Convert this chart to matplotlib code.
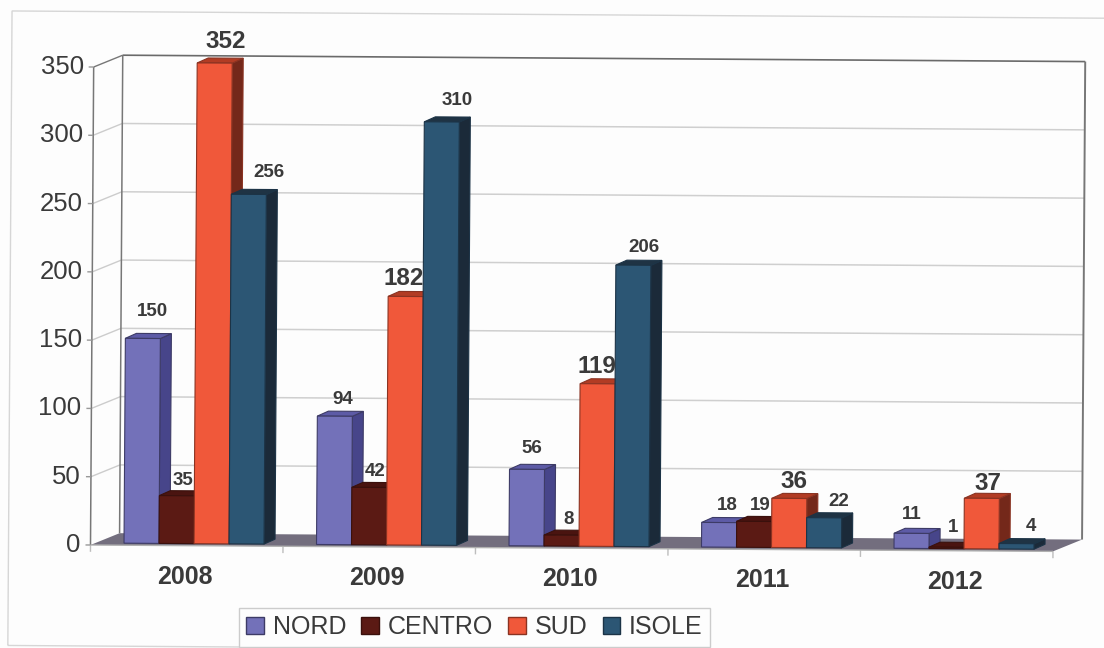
import matplotlib
matplotlib.use('Agg')
import matplotlib.pyplot as plt
from matplotlib.patches import Polygon, Rectangle, Patch
from matplotlib.transforms import Affine2D

plt.rcParams['font.family'] = ['Liberation Sans', 'DejaVu Sans']

# === DATI ===
anni = ['2008', '2009', '2010', '2011', '2012']
nord = [150, 94, 56, 18, 11]
centro = [35, 42, 8, 19, 1]
sud = [352, 182, 119, 36, 37]
isole = [256, 310, 206, 22, 4]
tick_y = [0, 50, 100, 150, 200, 250, 300, 350]
nomi = ['NORD', 'CENTRO', 'SUD', 'ISOLE']

# === STILE ===
# (fronte, lato, sopra, bordo)
colori = [
    ('#7371b9', '#47458a', '#5d5ba6', '#3d3b66'),
    ('#5b1a14', '#3e100c', '#4a1410', '#3a100c'),
    ('#f0583a', '#74281a', '#b23c24', '#8a3322'),
    ('#2c5674', '#1b2a39', '#1f3344', '#1c3346'),
]
TESTO = '#3a3a3a'
PIX_X = 192.5          # pixel per categoria
PIX_Y = 478 / 350      # pixel per unita
PROF_X = 29 / PIX_X    # profondita del grafico
PROF_Y = 12 / PIX_Y
BAR_W = 35 / PIX_X
BAR_X0 = 33.5 / PIX_X
BAR_Y0 = 1.5
BAR_DX = 11 / PIX_X
BAR_DY = 5 / PIX_Y
INCLINA = -0.38        # la scansione e leggermente ruotata

# spostamento delle etichette in pixel rispetto alla cima della barra
off_etichette = [
    [(9.5, 27), (6, 15), (11, 22), (20, 22)],
    [(8, 17), (6, 16), (-1.5, 18), (15, 21)],
    [(5, 21), (7, 16), (-1, 17), (11, 18)],
    [(8, 17), (6, 16), (5, 17), (14.5, 16)],
    [(0, 19), (6.5, 20), (6, 15), (14, 17)],
]
grandi = {(0, 2), (1, 2), (2, 2), (3, 2), (4, 2)}

W, H = 1104, 648
fig = plt.figure(figsize=(W / 100, H / 100), dpi=100, facecolor='#fdfdfd')
ax = fig.add_axes([90.5 / W, 103 / H, 5 * PIX_X / W, 478 / H])
ax.set_xlim(0, 5)
ax.set_ylim(0, 350)
ax.axis('off')

rot = Affine2D().rotate_deg_around(91, 103, INCLINA)
tf = ax.transData + rot


def poligono(punti, fc, ec='none', lw=0.8, z=2):
    ax.add_patch(Polygon(punti, closed=True, facecolor=fc, edgecolor=ec, linewidth=lw,
                         transform=tf, clip_on=False, zorder=z))


def linea(xs, ys, col, lw=1.0, z=1):
    ax.plot(xs, ys, color=col, lw=lw, transform=tf, clip_on=False, zorder=z,
            solid_capstyle='butt')


def testo(x, y, s, dx=0, dy=0, **kw):
    t = tf + Affine2D().translate(dx, dy)
    ax.text(x, y, s, transform=t, clip_on=False, zorder=6, color=TESTO, **kw)


# cornice esterna
fig.add_artist(Rectangle((8.5, 2), 1250, 634.5, fill=False, edgecolor='#d6d6d6', linewidth=1.0,
                         transform=rot, zorder=-1))

# === PARETI ===
for v in tick_y[1:]:
    col = '#6a6a6a' if v == 350 else '#cfcfcf'
    linea([PROF_X, 5 + PROF_X], [v + PROF_Y, v + PROF_Y], col, 1.2 if v == 350 else 1.1)
    linea([0, PROF_X], [v, v + PROF_Y], '#777777' if v == 350 else '#cccccc', 1.0)
linea([0, 0], [0, 350], '#777777', 1.1)
linea([PROF_X, PROF_X], [PROF_Y, 350 + PROF_Y], '#777777', 1.1)
linea([5 + PROF_X, 5 + PROF_X], [PROF_Y, 350 + PROF_Y], '#777777', 1.4)

# pavimento
poligono([(0, 0), (5, 0), (5 + PROF_X, PROF_Y), (PROF_X, PROF_Y)], '#736e7e', z=1.5)
linea([0, 5], [0, 0], '#b0b0b0', 1.0, z=1.6)

# tacche
for i in range(6):
    linea([i, i], [0, -5], '#bdbdbd', 1.0)
for v in tick_y:
    linea([-5 / PIX_X, 0], [v, v], '#999999', 1.0)
    testo(0, v, str(v), dx=-10, ha='right', va='center', fontsize=18.5)

# === BARRE ===
serie = [nord, centro, sud, isole]
for i, anno in enumerate(anni):
    for j, valori in enumerate(serie):
        fc, lato, sopra, bordo = colori[j]
        v = valori[i]
        x0 = i + BAR_X0 + j * BAR_W
        x1 = x0 + BAR_W
        y0 = BAR_Y0
        y1 = BAR_Y0 + v
        z = 2 + 0.01 * (i * 4 + j)
        poligono([(x1, y0), (x1 + BAR_DX, y0 + BAR_DY), (x1 + BAR_DX, y1 + BAR_DY), (x1, y1)], lato, bordo, z=z)
        poligono([(x0, y1), (x1, y1), (x1 + BAR_DX, y1 + BAR_DY), (x0 + BAR_DX, y1 + BAR_DY)], sopra, bordo, z=z)
        poligono([(x0, y0), (x1, y0), (x1, y1), (x0, y1)], fc, bordo, z=z)
        dx, dy = off_etichette[i][j]
        testo((x0 + x1) / 2, y1, str(v), dx=dx, dy=dy, ha='center', va='center', fontweight='bold',
              fontsize=17.5 if (i, j) in grandi else 13.5)
    testo(i + 0.5, 0, anno, dx=-2, dy=-31, ha='center', va='center', fontweight='bold', fontsize=18)

# === LEGENDA ===
maniglie = [Patch(facecolor=colori[k][0], edgecolor=colori[k][3], label=nomi[k]) for k in range(4)]
leg = ax.legend(handles=maniglie, ncol=4, loc='center', bbox_to_anchor=(474.5 / W, (H - 627) / H),
                bbox_transform=fig.transFigure, fontsize=18, frameon=True, fancybox=False,
                edgecolor='#cccccc', facecolor='#fdfdfd', framealpha=1, handlelength=0.7,
                handleheight=0.7, handletextpad=0.36, columnspacing=0.6, borderpad=0.3,
                borderaxespad=0, labelcolor=TESTO)
leg.get_frame().set_linewidth(1.0)
leg.set_zorder(7)

fig.savefig('out.png', dpi=100, facecolor=fig.get_facecolor())
